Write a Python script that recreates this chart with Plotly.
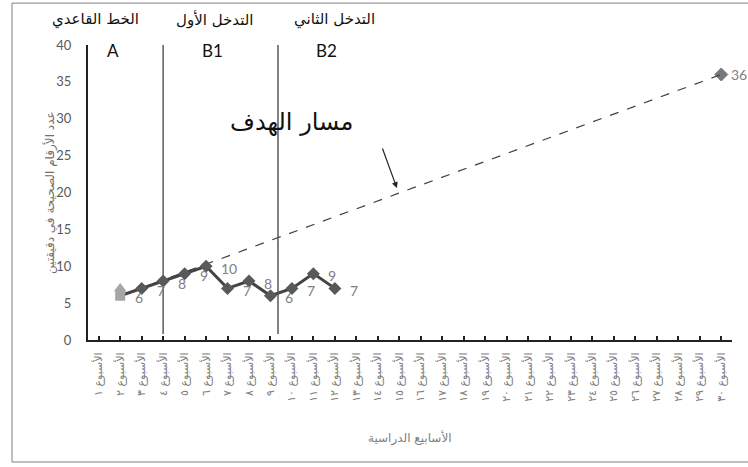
import plotly.graph_objects as go

# ---- data ----
week_numbers = list(range(1, 31))
arabic_digits = "٠١٢٣٤٥٦٧٨٩"
week_labels = ["الأسبوع " + "".join(arabic_digits[int(c)] for c in str(n)) for n in week_numbers]

score_weeks = [2, 3, 4, 5, 6, 7, 8, 9, 10, 11, 12]
score_values = [6, 7, 8, 9, 10, 7, 8, 6, 7, 9, 7]

baseline_mark_week = [2]
baseline_mark_value = [7]

aim_weeks = [2, 30]
aim_values = [6, 36]

phase_change_weeks = [4, 9.35]
phase_names = ["الخط القاعدي", "التدخل الأول", "التدخل الثاني"]
phase_codes = ["A", "B1", "B2"]
phase_name_x = [0.83, 6.4, 12.0]
phase_code_x = [1.66, 6.3, 11.6]

y_ticks = [0, 5, 10, 15, 20, 25, 30, 35, 40]

AR_FONT = "DejaVu Sans"
NUM_FONT = "Lato, Open Sans, sans-serif"
GRAY = "#595959"
LABEL_GRAY = "#808080"

fig = go.Figure()

# aim line (dashed)
fig.add_trace(go.Scatter(
    x=aim_weeks, y=aim_values, mode="lines+markers",
    line=dict(color="#404040", width=1.2, dash="dash"),
    marker=dict(symbol=["circle", "diamond"], size=[0, 10], color="#3f3f3f"),
    hoverinfo="skip", showlegend=False,
))

# weekly scores
symbols = ["square"] + ["diamond"] * (len(score_weeks) - 1)
colors = ["#A6A6A6"] + [GRAY] * (len(score_weeks) - 1)
fig.add_trace(go.Scatter(
    x=score_weeks, y=score_values, mode="lines+markers",
    line=dict(color="#444444", width=3),
    marker=dict(symbol=symbols, size=10, color=colors),
    showlegend=False,
))

# baseline triangle mark
fig.add_trace(go.Scatter(
    x=baseline_mark_week, y=baseline_mark_value, mode="markers",
    marker=dict(symbol="triangle-up", size=11, color="#A6A6A6"),
    showlegend=False,
))

annotations = []
# value labels to the right of each point
for wk, v in zip(score_weeks, score_values):
    annotations.append(dict(x=wk, y=v, xref="x", yref="y", text=str(v), showarrow=False,
                            xanchor="left", yanchor="middle", xshift=13, yshift=-2,
                            font=dict(family=NUM_FONT, size=14, color=LABEL_GRAY)))
annotations.append(dict(x=aim_weeks[-1], y=aim_values[-1], xref="x", yref="y",
                        text=str(aim_values[-1]), showarrow=False, xanchor="left",
                        yanchor="middle", xshift=8,
                        font=dict(family=NUM_FONT, size=14, color=LABEL_GRAY)))

# phase headings
for name, nx in zip(phase_names, phase_name_x):
    annotations.append(dict(x=nx, y=1.085, xref="x", yref="paper", text=name, showarrow=False,
                            xanchor="center", yanchor="middle",
                            font=dict(family=AR_FONT, size=15, color="#111111")))
for code, cx in zip(phase_codes, phase_code_x):
    annotations.append(dict(x=cx, y=0.983, xref="x", yref="paper", text=code, showarrow=False,
                            xanchor="center", yanchor="middle",
                            font=dict(family=NUM_FONT, size=17, color="#111111")))

# aim line caption with arrow
annotations.append(dict(x=10.0, y=29.6, xref="x", yref="y", text="مسار الهدف", showarrow=False,
                        xanchor="center", yanchor="middle",
                        font=dict(family=AR_FONT, size=24, color="#111111")))
annotations.append(dict(x=14.89, y=20.6, xref="x", yref="y", text="", showarrow=True,
                        ax=-15, ay=-41, arrowhead=2, arrowsize=1, arrowwidth=1.2,
                        arrowcolor="#222222"))

# axis titles
annotations.append(dict(x=-0.059, y=0.498, xref="paper", yref="paper",
                        text="عدد الأرقام الصحيحة في دقيقتين", textangle=-90, showarrow=False,
                        xanchor="center", yanchor="middle",
                        font=dict(family=AR_FONT, size=12, color="#7a6f66")))
annotations.append(dict(x=0.5, y=-0.332, xref="paper", yref="paper",
                        text="الأسابيع الدراسية", showarrow=False,
                        xanchor="center", yanchor="middle",
                        font=dict(family=AR_FONT, size=12, color=LABEL_GRAY)))

shapes = []
for px in phase_change_weeks:
    shapes.append(dict(type="line", xref="x", yref="y", x0=px, x1=px, y0=0.8, y1=40.3,
                       line=dict(color=GRAY, width=1.5)))
# outer chart border
shapes.append(dict(type="rect", xref="paper", yref="paper", x0=-0.118, x1=1.03,
                   y0=-0.4136, y1=1.142, line=dict(color="#7f7f7f", width=1)))

fig.update_layout(
    width=748, height=467,
    margin=dict(l=88, r=16, t=45, b=127),
    paper_bgcolor="white", plot_bgcolor="white",
    annotations=annotations, shapes=shapes,
    showlegend=False,
)
fig.update_xaxes(
    range=[0.5, 30.5], tickmode="array", tickvals=week_numbers, ticktext=week_labels,
    tickangle=-90, tickfont=dict(family=AR_FONT, size=11, color=LABEL_GRAY),
    showline=True, linecolor="#222222", linewidth=2, showgrid=False, zeroline=False,
    ticks="inside", ticklen=4, tickcolor="#222222", tickwidth=1.5,
    ticklabelstandoff=6,
)
fig.update_yaxes(
    range=[0, 40], tickmode="array", tickvals=y_ticks,
    tickfont=dict(family=NUM_FONT, size=13, color=GRAY),
    showline=True, linecolor="#222222", linewidth=2, showgrid=False, zeroline=False,
    ticks="", ticklabelstandoff=12,
)

fig.write_html("out.html")
